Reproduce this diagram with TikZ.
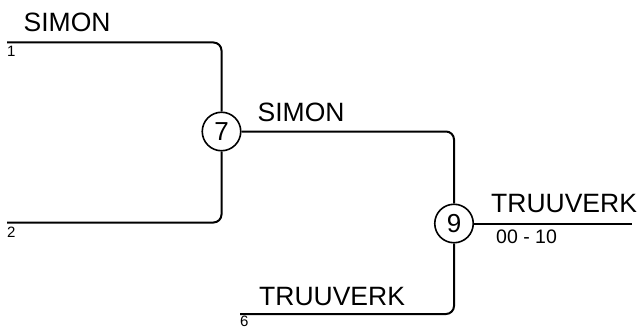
\documentclass[tikz,border=0pt]{standalone}
\usepackage{fontspec}
\setmainfont{Liberation Sans}
\begin{document}
\begin{tikzpicture}[x=1pt,y=-1pt,
  wire/.style={line width=2pt,rounded corners=8pt},
  match/.style={circle,draw,line width=1.6pt,minimum size=38.5pt,inner sep=0pt,font=\fontsize{26}{26}\selectfont},
  team/.style={anchor=base west,inner sep=0pt,font=\fontsize{26.5}{27}\selectfont},
  seed/.style={anchor=base west,inner sep=0pt,font=\fontsize{15}{15}\selectfont},
  score/.style={anchor=base west,inner sep=0pt,font=\fontsize{19.5}{20}\selectfont}]
\useasboundingbox (0,0) rectangle (642,329);
\coordinate (p1) at (7,42.5);
\coordinate (p2) at (7,222.5);
\coordinate (p6) at (240,314);
\coordinate (fin) at (632,223.5);
\node[match] (m7) at (221.5,131.5) {7};
\node[match] (m9) at (454,223.5) {9};
\draw[wire] (p1) -| (m7);
\draw[wire] (p2) -| (m7);
\draw[wire] (m7) -| (m9);
\draw[wire] (p6) -| (m9);
\draw[line width=2pt] (m9) -- (fin);
\node[team] (t1) at (23.5,31.5) {SIMON};
\node[team] (t7) at (257.5,121.5) {SIMON};
\node[team] (t9) at (491,212) {TRUUVERK};
\node[team] (t6) at (259,305) {TRUUVERK};
\node[seed] (s1) at (7,56.5) {1};
\node[seed] (s2) at (7,237.5) {2};
\node[seed] (s6) at (240,326.5) {6};
\node[score] (sc) at (496,243) {00 - 10};
\end{tikzpicture}
\end{document}
